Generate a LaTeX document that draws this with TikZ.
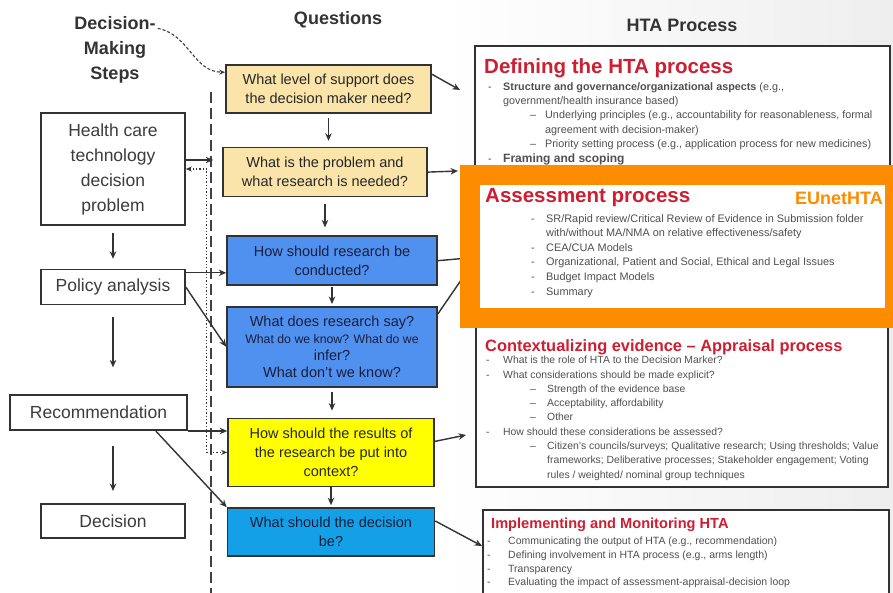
\documentclass[tikz,border=0pt]{standalone}
\usepackage{fontspec}
\setmainfont{Liberation Sans}
\usepackage{xcolor}
\usetikzlibrary{positioning,arrows.meta,calc}

\definecolor{boxline}{RGB}{50,50,50}
\definecolor{stepgray}{RGB}{60,60,60}
\definecolor{tanfill}{RGB}{250,228,170}
\definecolor{bluefill}{RGB}{80,145,240}
\definecolor{yellowfill}{RGB}{255,255,0}
\definecolor{cyanfill}{RGB}{20,160,230}
\definecolor{htared}{RGB}{205,30,50}
\definecolor{euorange}{RGB}{253,140,0}
\definecolor{bodygray}{RGB}{80,80,80}
\definecolor{navytext}{RGB}{25,30,60}
\definecolor{slidegray}{RGB}{238,238,238}

\newcommand{\lead}[1]{\makebox[#1][l]{-}}
\newcommand{\sublead}[1]{\makebox[#1][l]{--}}

\begin{document}
\begin{tikzpicture}[
		x=1pt, y=-1pt,
		node distance=20pt,
		stepbox/.style={draw=boxline, line width=1.6pt, fill=white, align=center, inner sep=0pt,
			text=stepgray, font=\fontsize{17.5}{25}\selectfont},
		qbox/.style={draw=boxline, line width=1.6pt, align=center, inner sep=0pt,
			text=black!85, font=\fontsize{14.5}{19}\selectfont},
		htabox/.style={draw=boxline, line width=1.4pt, fill=white, inner sep=0pt, outer sep=0pt, anchor=north west},
		head/.style={align=center, inner sep=0pt, text=black!80, font=\fontsize{18}{25}\selectfont\bfseries},
		ttl/.style={anchor=west, inner sep=0pt, text=htared, font=\fontsize{20.5}{24}\selectfont\bfseries},
		body/.style={align=left, anchor=north west, inner sep=0pt, text=bodygray, font=\fontsize{10.4}{14.3}\selectfont},
		arr/.style={-{Stealth[length=7.5pt,width=6.5pt]}, line width=1.4pt, draw=black!80},
		backloop/.style={{Stealth[length=6pt,width=5pt]}-{Stealth[length=6pt,width=5pt]}, line width=1.3pt, dotted, draw=black!80},
		]
	
	\clip (0,0) rectangle (893,593);
	\useasboundingbox (0,0) rectangle (893,593);
	\shade[left color=white, right color=slidegray] (440,0) rectangle (893,593);
	
	\node (defbox) [htabox, minimum width=415pt, minimum height=160pt] at (475,46) {};
	\node (deftitle) [ttl] at (484,68) {Defining the HTA process};
	\node (defbody) [body, font=\fontsize{10.8}{14.4}\selectfont] at (488,82) {%
		\lead{15pt}\textbf{Structure and governance/organizational aspects} (e.g.,\\
		\hspace*{15pt}government/health insurance based)\\
		\hspace*{42pt}\sublead{15pt}Underlying principles (e.g., accountability for reasonableness, formal\\
		\hspace*{57pt}agreement with decision-maker)\\
		\hspace*{42pt}\sublead{15pt}Priority setting process (e.g., application process for new medicines)\\
		\lead{15pt}{\fontsize{12}{14.4}\selectfont\bfseries Framing and scoping}};
	
	\node (appbox) [htabox, minimum width=412pt, minimum height=161pt] at (476,326) {};
	\node (apptitle) [ttl, font=\fontsize{16.4}{20}\selectfont\bfseries] at (485,347) {Contextualizing evidence -- Appraisal process};
	\node (appbody) [body] at (486,356) {%
		\lead{17pt}What is the role of HTA to the Decision Marker?\\
		\lead{17pt}What considerations should be made explicit?\\
		\hspace*{44pt}\sublead{17pt}Strength of the evidence base\\
		\hspace*{44pt}\sublead{17pt}Acceptability, affordability\\
		\hspace*{44pt}\sublead{17pt}Other\\
		\lead{17pt}How should these considerations be assessed?\\
		\hspace*{44pt}\sublead{17pt}Citizen's councils/surveys; Qualitative research; Using thresholds; Value\\
		\hspace*{61pt}frameworks; Deliberative processes; Stakeholder engagement; Voting\\
		\hspace*{61pt}rules / weighted/ nominal group techniques};
	
	\node (impbox) [htabox, minimum width=406pt, minimum height=100pt] at (483,510) {};
	\node (imptitle) [ttl, font=\fontsize{14.6}{18}\selectfont\bfseries] at (491,525) {Implementing and Monitoring HTA};
	\node (impbody) [body, font=\fontsize{10.5}{13.6}\selectfont] at (487,537) {%
		\lead{21pt}Communicating the output of HTA (e.g., recommendation)\\
		\lead{21pt}Defining involvement in HTA process (e.g., arms length)\\
		\lead{21pt}Transparency\\
		\lead{21pt}Evaluating the impact of assessment-appraisal-decision loop};
	
	\node (steps) [head] at (115,50) {Decision-\\Making\\Steps};
	\node (questions) [head] at (338,20) {Questions};
	\node (process) [head] at (682,25) {HTA Process};
	
	\node (q1) [qbox, fill=tanfill, minimum width=205pt, minimum height=48pt] at (328.5,89)
	{What level of support does\\the decision maker need?};
	
	\node (q2) [qbox, fill=tanfill, minimum width=204pt, minimum height=49pt, below=33pt of q1, xshift=-3.5pt]
	{What is the problem and\\what research is needed?};
	
	\node (q3) [qbox, fill=bluefill, text=navytext, minimum width=210pt, minimum height=49pt, below=38pt of q2, xshift=7pt]
	{How should research be\\conducted?};
	
	\node (q4) [qbox, fill=bluefill, text=navytext, minimum width=210pt, minimum height=80pt, below=20pt of q3, font=\fontsize{14.5}{17}\selectfont]
	{What does research say?\\\fontsize{12.3}{17}\selectfont What do we know? What do we\\infer?\\What don't we know?};
	
	\node (q5) [qbox, fill=yellowfill, minimum width=206pt, minimum height=68pt, below=30pt of q4, xshift=-1pt]
	{How should the results of\\the research be put into\\context?};
	
	\node (q6) [qbox, fill=cyanfill, text=navytext, minimum width=207pt, minimum height=48pt, below=20pt of q5]
	{What should the decision\\be?};
	
	\draw[arr, shorten <=4pt, shorten >=6pt] (q1.south) -- (q1.south |- q2.north);
	\draw[arr, shorten <=7pt, shorten >=8pt] (q2.south) -- (q2.south |- q3.north);
	\draw[arr, shorten <=1pt, shorten >=2pt] (q3.south) -- (q3.south |- q4.north);
	\draw[arr, shorten <=4pt, shorten >=7pt] (q4.south) -- (q4.south |- q5.north);
	\draw[arr, shorten >=2pt] (q5.south) -- (q5.south |- q6.north);
	
	\coordinate (toDef) at (460,90);
	\coordinate (toScope) at (458,171);
	\coordinate (toAssess) at (468,258);
	\coordinate (toAssessB) at (468,270);
	\coordinate (toApp) at (466,435);
	\coordinate (toImp) at (482,546);
	
	\draw[arr] ($(q1.north east)+(0,10)$) -- (toDef);
	\draw[arr] (q2.east) -- (toScope);
	\draw[arr] (q3.east) -- (toAssess);
	\draw[arr] ($(q4.north east)+(0,8)$) -- (toAssessB);
	\draw[arr] ($(q5.east)+(0,-11)$) -- (toApp);
	\draw[arr] ($(q6.east)+(0,-11)$) -- (toImp);
	
	\node (assess) [draw=euorange, line width=20pt, fill=white, inner sep=0pt, outer sep=0pt, anchor=north west,
		minimum width=425pt, minimum height=143pt] at (470,175) {};
	\node (assesstitle) [ttl] at (485,198) {Assessment process};
	\node (eunet) [anchor=east, inner sep=0pt, text=euorange, font=\fontsize{18}{22}\selectfont\bfseries] at (883,198) {EUnetHTA};
	\node (assessbody) [body, font=\fontsize{10.9}{14.6}\selectfont] at (531,214) {%
		\lead{15pt}SR/Rapid review/Critical Review of Evidence in Submission folder\\
		\hspace*{15pt}with/without MA/NMA on relative effectiveness/safety\\
		\lead{15pt}CEA/CUA Models\\
		\lead{15pt}Organizational, Patient and Social, Ethical and Legal Issues\\
		\lead{15pt}Budget Impact Models\\
		\lead{15pt}Summary};
	
	\coordinate (divtop) at (211,92);
	\coordinate (divbot) at (211,593);
	\draw[line width=1.8pt, draw=black!75, dash pattern=on 11pt off 5pt] (divtop) -- (divbot);
	
	\node (health) [stepbox, minimum width=144pt, minimum height=112pt] at (113,169)
	{Health care\\technology\\decision\\problem};
	
	\node (policy) [stepbox, minimum width=144pt, minimum height=35pt, below=43pt of health]
	{Policy analysis};
	
	\node (recom) [stepbox, minimum width=177pt, minimum height=35pt, below=89pt of policy, xshift=-14.5pt]
	{Recommendation};
	
	\node (decision) [stepbox, minimum width=144pt, minimum height=34pt, below=72pt of recom, xshift=14.5pt]
	{Decision};
	
	\draw[arr, shorten <=7pt, shorten >=10pt] (health) -- (policy);
	\draw[arr, shorten <=12pt, shorten >=27pt] (policy.south) -- (recom.north -| policy.south);
	\draw[arr, shorten <=15pt, shorten >=12pt] (recom.south -| decision.north) -- (decision.north);
	
	\draw[arr, shorten >=9pt] ($(health.east)+(0,-9)$) -- ($(q2.west |- health.east)+(0,-9)$);
	\draw[backloop] (health.east) -- ++(21,0) |- (q5.west);
	\draw[arr] ($(policy.north east)+(0,4)$) -- ($(q3.west |- policy.north east)+(0,4)$);
	\draw[arr] (policy.east) -- (q4.west);
	\draw[arr] (recom.south east) -- (recom.south east -| q5.west);
	\draw[arr] ($(recom.south east)+(-32,0)$) -- (q6.north west);
	
	\draw[-{Stealth[length=6pt,width=5pt]}, line width=1.1pt, draw=black!75, dash pattern=on 3pt off 2pt]
		($(steps.north east)+(2,12)$) to[out=-10, in=180] ($(q1.north west)+(0,8)$);
	
\end{tikzpicture}
\end{document}
